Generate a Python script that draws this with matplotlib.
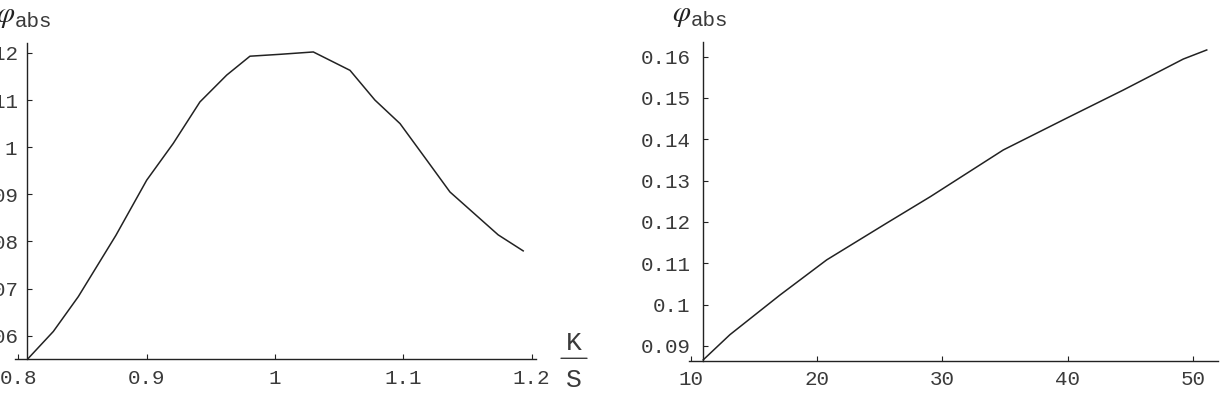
#!/usr/bin/env python3
"""
Two Mathematica-style line plots of phi_abs
"""

import matplotlib
matplotlib.use('Agg')
import matplotlib.pyplot as plt
from matplotlib.transforms import offset_copy

# left panel: phi_abs against K/S
ks_vals = [0.8077, 0.8272, 0.8467, 0.876, 0.9, 0.9207, 0.9415, 0.9624, 0.9805,
           1.0039, 1.0299, 1.0585, 1.0779, 1.0975, 1.1182, 1.1364, 1.1740, 1.1935]
phi_ks = [0.0552, 0.0609, 0.0683, 0.0813, 0.0930, 0.1008, 0.1096, 0.1153, 0.1193,
          0.1197, 0.1202, 0.1163, 0.1100, 0.1050, 0.0973, 0.0905, 0.0814, 0.0780]
ks_ticks = [0.8, 0.9, 1.0, 1.1, 1.2]
ks_ticklabels = ['0.8', '0.9', '1', '1.1', '1.2']
phi_ks_ticks = [0.06, 0.07, 0.08, 0.09, 0.10, 0.11, 0.12]
phi_ks_ticklabels = ['0.06', '0.07', '0.08', '0.09', '0.1', '0.11', '0.12']

# right panel: phi_abs against n
n_vals = [10.96, 13.09, 17.08, 20.80, 25.58, 29.06, 34.87, 39.92, 44.43, 49.21, 51.08]
phi_n = [0.0866, 0.0927, 0.1023, 0.1108, 0.1197, 0.1261, 0.1374, 0.1451, 0.1519,
         0.1594, 0.1616]
n_ticks = [10, 20, 30, 40, 50]
n_ticklabels = ['10', '20', '30', '40', '50']
phi_n_ticks = [0.09, 0.10, 0.11, 0.12, 0.13, 0.14, 0.15, 0.16]
phi_n_ticklabels = ['0.09', '0.1', '0.11', '0.12', '0.13', '0.14', '0.15', '0.16']

plt.rcParams['mathtext.fontset'] = 'stix'

MONO = 'Liberation Mono'
TEXT_COLOR = '#3a3a3a'
AXIS_COLOR = '#222222'


def style_axes(ax, x0, xticks, xlabels, yticks, ylabels, ypad):
    """Mathematica-like crossing axes at (x0, bottom)"""
    for side in ('top', 'right'):
        ax.spines[side].set_visible(False)
    ax.spines['left'].set_position(('data', x0))
    for side in ('left', 'bottom'):
        ax.spines[side].set_linewidth(1.0)
        ax.spines[side].set_color(AXIS_COLOR)
    ax.set_xticks(xticks)
    ax.set_xticklabels(xlabels)
    ax.set_yticks(yticks)
    ax.set_yticklabels(ylabels)
    ax.tick_params(axis='both', direction='in', length=3.5, width=0.8,
                   colors=AXIS_COLOR, labelcolor=TEXT_COLOR, labelsize=15)
    ax.tick_params(axis='x', pad=7)
    ax.tick_params(axis='y', pad=ypad)
    for lab in ax.get_xticklabels() + ax.get_yticklabels():
        lab.set_fontfamily(MONO)
    ax.patch.set_visible(False)

    # y label over the vertical axis: phi then "abs"
    top = ax.get_ylim()[1]
    ax.annotate(r'$\varphi$', xy=(x0, top), xycoords='data',
                xytext=(-12, 21), textcoords='offset pixels',
                ha='right', va='baseline', fontsize=21, color=AXIS_COLOR,
                annotation_clip=False)
    ax.annotate('abs', xy=(x0, top), xycoords='data',
                xytext=(-12, 16), textcoords='offset pixels',
                ha='left', va='baseline', fontsize=15, family=MONO,
                color=TEXT_COLOR, annotation_clip=False)


fig = plt.figure(figsize=(12.26, 3.96), dpi=100)

# left plot
ax1 = fig.add_axes([0.0122, 0.0927, 0.4250, 0.7987])
ax1.plot(ks_vals, phi_ks, color=AXIS_COLOR, linewidth=1.1, clip_on=False)
ax1.set_xlim(0.7973, 1.2035)
ax1.set_ylim(0.0550, 0.1221)
style_axes(ax1, 0.8065, ks_ticks, ks_ticklabels, phi_ks_ticks, phi_ks_ticklabels, 6)

# K/S fraction to the right of the horizontal axis
x_end, y_bot = 1.2035, 0.0550
ax1.annotate('K', xy=(x_end, y_bot), xycoords='data', xytext=(38, 9),
             textcoords='offset pixels', ha='center', va='baseline',
             fontsize=19, family=MONO, color=TEXT_COLOR, annotation_clip=False)
ax1.annotate('S', xy=(x_end, y_bot), xycoords='data', xytext=(38, -28),
             textcoords='offset pixels', ha='center', va='baseline',
             fontsize=19, family=MONO, color=TEXT_COLOR, annotation_clip=False)
bar_start = offset_copy(ax1.transData, fig=fig, x=25, y=1, units='dots')
ax1.annotate('', xy=(x_end, y_bot), xycoords=bar_start, xytext=(26, 0),
             textcoords='offset pixels', annotation_clip=False,
             arrowprops=dict(arrowstyle='-', color=TEXT_COLOR, lw=1.0,
                             shrinkA=0, shrinkB=0))

# right plot
ax2 = fig.add_axes([0.5622, 0.0891, 0.4315, 0.8056])
ax2.plot(n_vals, phi_n, color=AXIS_COLOR, linewidth=1.1, clip_on=False)
ax2.set_xlim(9.85, 52.0)
ax2.set_ylim(0.0864, 0.1636)
style_axes(ax2, 10.96, n_ticks, n_ticklabels, phi_n_ticks, phi_n_ticklabels, 9)

fig.savefig('out.png', dpi=100)
plt.close(fig)
